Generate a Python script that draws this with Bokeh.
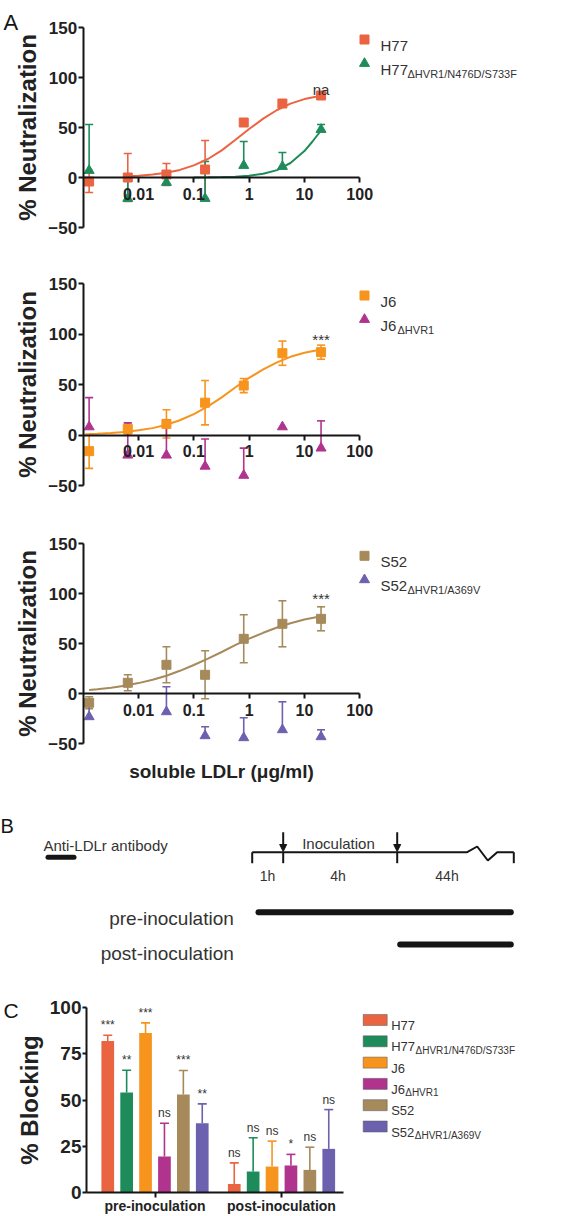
from bokeh.plotting import figure
from bokeh.models import (ColumnDataSource, Whisker, TeeHead, FixedTicker, LinearAxis, LogAxis,
                          LogScale, CustomJSTickFormatter, LabelSet, Range1d, Arrow, NormalHead)
from bokeh.core.properties import value
from bokeh.embed import file_html
from bokeh.resources import INLINE

# ======================= DATA =======================
# Panel A: neutralization by soluble LDLr (ug/ml)
conc = [0.00128, 0.0064, 0.032, 0.16, 0.8, 4, 20]

h77_mean = [-4, 0, 3, 8, 55, 74, 82]
h77_sd = [11, 24, 11, 29, 3, 3, 2]
h77d_mean = [7, -21, -5, -21, 12, 11, 48]
h77d_sd = [46, 22, 11, 37, 24, 14, 5]

j6_mean = [-16, 6, 11, 32, 49, 81, 82]
j6_sd = [17, 6, 14, 22, 7, 12, 7]
j6d_mean = [8, -20, -20, -31, -40, 8, -13]
j6d_sd = [29, 32, 35, 27, 27, 0, 27]

s52_mean = [-9, 11, 29, 19, 55, 70, 75]
s52_sd = [6, 8, 18, 24, 24, 23, 12]
s52d_conc = [0.00128, 0.032, 0.16, 0.8, 4, 20]
s52d_mean = [-23, -18, -42, -44, -36, -43]
s52d_sd = [15, 25, 9, 20, 28, 7]

# fitted curves
h77_curve_x = [0.0064, 0.01, 0.018, 0.032, 0.056, 0.1, 0.18, 0.32, 0.56, 1, 1.8, 3.2, 5.6, 10, 20]
h77_curve_y = [1.2, 1.7, 2.9, 4.7, 7.6, 12.1, 18.5, 27.1, 37.5, 48.5, 58.9, 67.5, 73.9, 78.4, 81.7]
h77d_curve_x = [0.1, 0.18, 0.32, 0.56, 1, 1.8, 3.2, 5.6, 10, 14, 20]
h77d_curve_y = [0.1, 0.2, 0.4, 0.8, 1.8, 3.7, 7.4, 14.5, 26.4, 36, 47]
j6_curve_x = [0.00128, 0.0018, 0.0032, 0.0056, 0.01, 0.018, 0.032, 0.056, 0.1,
              0.18, 0.32, 0.56, 1, 1.8, 3.2, 5.6, 10, 20]
j6_curve_y = [1.0, 1.3, 2.0, 3.0, 4.6, 6.8, 10.1, 14.6, 20.7,
              28.4, 37.3, 47.0, 56.5, 64.9, 71.9, 77.4, 81.4, 84.7]
s52_curve_x = j6_curve_x
s52_curve_y = [3.8, 4.5, 6.0, 8.0, 10.7, 14.0, 18.1, 23.0, 28.8,
               35.1, 41.8, 48.6, 55.1, 61.0, 66.3, 70.6, 74.3, 77.6]

x_ticks = [0.01, 0.1, 1, 10, 100]
y_ticks_a = [-50, 0, 50, 100, 150]
notes_a = ["na", "***", "***"]

# Panel C: % blocking by anti-LDLr antibody
groups = ["pre-inoculation", "post-inoculation"]
strain_names = ["H77", "H77", "J6", "J6", "S52", "S52"]
strain_subs = ["", "\u0394HVR1/N476D/S733F", "", "\u0394HVR1", "", "\u0394HVR1/A369V"]
pre_mean = [82, 54, 86.4, 19.3, 53, 37.4]
pre_sd = [3.1, 12.1, 5.4, 18.1, 13, 10.5]
post_mean = [4.5, 11.2, 13.9, 14.5, 12.1, 23.5]
post_sd = [11.4, 18.3, 13.8, 6, 12.3, 21.3]
pre_sig = ["***", "**", "***", "ns", "***", "**"]
post_sig = ["ns", "ns", "ns", "*", "ns", "ns"]
y_ticks_c = [0, 25, 50, 75, 100]

# ======================= LAYOUT / STYLE =======================
W, H = 566, 1216
FONT = "Liberation Sans"
INK = "#151515"
TXT = "#333333"
LBL = "#222222"
COLORS = ["#EB6442", "#1E8C5A", "#F7941E", "#B0338E", "#A68A5C", "#6C61AF"]
SUB_OFF_A = {"H77": 27, "J6": 17, "S52": 27}
SUB_OFF_C = {"H77": 24.3, "J6": 14, "S52": 23.6}

AX0, DEC = 82.7, 55.3                      # screen x of 1e-3, px per decade
A_GEOM = {"a1": (177.0, 1.0), "a2": (434.5, 1.01), "a3": (693.3, 1.0)}   # screen y of 0, px/unit
G0, UNIT = 154.5, 126.5                    # panel C: screen x of first group, px per group
C_ZERO, C_K = 1191.7, 1.844                # panel C: screen y of 0, px/unit
STEP, BAR_W = 18.9 / UNIT, 12.7 / UNIT


def AX(sx):
    return 10 ** (-3 + (sx - AX0) / DEC)


def AY(name, sy):
    zero, k = A_GEOM[name]
    return (zero - sy) / k


def CX(sx):
    return (sx - G0) / UNIT


def CY(sy):
    return (C_ZERO - sy) / C_K


extra_y = {n: Range1d(AY(n, H), AY(n, 0)) for n in A_GEOM}
extra_y["cy"] = Range1d(CY(H), CY(0))

p = figure(width=W, height=H, x_range=Range1d(0, W), y_range=Range1d(H, 0),
           min_border=0, x_axis_location=None, y_axis_location=None,
           extra_x_ranges={"ax": Range1d(AX(0), AX(W)), "cx": Range1d(CX(0), CX(W))},
           extra_x_scales={"ax": LogScale()},
           extra_y_ranges=extra_y,
           output_backend="svg", toolbar_location=None)
p.grid.visible = False
p.outline_line_color = None


def style_axis(ax, size, tick_out, standoff):
    ax.axis_line_width = 2
    ax.axis_line_color = INK
    ax.major_tick_line_width = 2
    ax.major_tick_line_color = INK
    ax.minor_tick_line_color = None
    ax.major_tick_in = 0
    ax.major_tick_out = tick_out
    ax.major_label_standoff = standoff
    ax.major_label_text_font = FONT
    ax.major_label_text_font_style = "bold"
    ax.major_label_text_font_size = f"{size}px"
    ax.major_label_text_color = LBL


def add_text(x, y, txt, size, style="normal", align="left", color=TXT, xr="default", yr="default"):
    p.text(x=[x], y=[y], text=[txt], text_font=value(FONT), text_font_size=value(f"{size}px"),
           text_font_style=style, text_align=align, text_baseline="alphabetic", text_color=color,
           x_range_name=xr, y_range_name=yr)


# ======================= PANEL A =======================
panels = [
    dict(yr="a1", note=notes_a[0], note_sy=89,
         series=[dict(name="H77", sub="", color=COLORS[0], marker="square", size=9, x=conc,
                      mean=h77_mean, sd=h77_sd, both=True, cx=h77_curve_x, cy=h77_curve_y),
                 dict(name="H77", sub=strain_subs[1], color=COLORS[1], marker="triangle", size=10,
                      x=conc, mean=h77d_mean, sd=h77d_sd, both=False,
                      cx=h77d_curve_x, cy=h77d_curve_y)]),
    dict(yr="a2", note=notes_a[1], note_sy=339,
         series=[dict(name="J6", sub="", color=COLORS[2], marker="square", size=9, x=conc,
                      mean=j6_mean, sd=j6_sd, both=True, cx=j6_curve_x, cy=j6_curve_y),
                 dict(name="J6", sub=strain_subs[3], color=COLORS[3], marker="triangle", size=10,
                      x=conc, mean=j6d_mean, sd=j6d_sd, both=False, cx=None, cy=None)]),
    dict(yr="a3", note=notes_a[2], note_sy=598,
         series=[dict(name="S52", sub="", color=COLORS[4], marker="square", size=9, x=conc,
                      mean=s52_mean, sd=s52_sd, both=True, cx=s52_curve_x, cy=s52_curve_y),
                 dict(name="S52", sub=strain_subs[5], color=COLORS[5], marker="triangle", size=10,
                      x=s52d_conc, mean=s52d_mean, sd=s52d_sd, both=False, cx=None, cy=None)]),
]

for cfg in panels:
    yr = cfg["yr"]
    zero, k = A_GEOM[yr]
    ftop = zero - 150 * k

    xa = LogAxis(x_range_name="ax", y_range_name=yr, fixed_location=0, bounds=(1e-3, 100),
                 ticker=FixedTicker(ticks=x_ticks, minor_ticks=[]),
                 formatter=CustomJSTickFormatter(code="return tick.toString();"))
    style_axis(xa, 16, 5, 5)
    p.add_layout(xa, "below")

    ya = LinearAxis(x_range_name="ax", y_range_name=yr, fixed_location=1e-3, bounds=(-50, 150),
                    ticker=FixedTicker(ticks=y_ticks_a, minor_ticks=[]),
                    axis_label="% Neutralization")
    style_axis(ya, 17, 5, 1)
    ya.axis_label_text_font = FONT
    ya.axis_label_text_font_style = "bold"
    ya.axis_label_text_font_size = "24px"
    ya.axis_label_text_color = LBL
    ya.axis_label_standoff = 5
    p.add_layout(ya, "left")

    for s in cfg["series"]:
        if s["cx"] is not None:
            p.line(s["cx"], s["cy"], line_color=s["color"], line_width=2,
                   x_range_name="ax", y_range_name=yr)

    for s in cfg["series"]:
        c = s["color"]
        rows = [(x, m, e) for x, m, e in zip(s["x"], s["mean"], s["sd"]) if e > 0]
        src = ColumnDataSource(dict(
            base=[r[0] for r in rows],
            upper=[r[1] + r[2] for r in rows],
            lower=[(r[1] - r[2]) if s["both"] else r[1] for r in rows]))
        p.add_layout(Whisker(source=src, base="base", upper="upper", lower="lower",
                             x_range_name="ax", y_range_name=yr,
                             line_color=c, line_width=1.6,
                             upper_head=TeeHead(size=8, line_color=c, line_width=1.6),
                             lower_head=TeeHead(size=8, line_color=c, line_width=1.6)
                             if s["both"] else None))
        p.scatter(s["x"], s["mean"], marker=s["marker"], size=s["size"],
                  fill_color=c, line_color=c, x_range_name="ax", y_range_name=yr)

    # legend (screen coordinates)
    for i, s in enumerate(cfg["series"]):
        row = ftop + (12 if i == 0 else 36)
        p.scatter([364], [row], marker=s["marker"], size=s["size"],
                  fill_color=s["color"], line_color=s["color"])
        add_text(380, row + 6, s["name"], 15)
        if s["sub"]:
            add_text(380 + SUB_OFF_A[s["name"]], row + 10, s["sub"], 11)

    add_text(20, AY(yr, cfg["note_sy"]), cfg["note"], 15, align="center", xr="ax", yr=yr)

add_text(3, 21.7, "A", 22, color=INK)
add_text(221, 771, "soluble LDLr (\u03bcg/ml)", 19, style="bold", align="center", color=LBL)

# ======================= PANEL B (schematic, screen coordinates) =======================
add_text(0, 825, "B", 20, color=INK)
add_text(43, 844.5, "Anti-LDLr antibody", 15)
p.segment(x0=[47.5], y0=[856.7], x1=[73.5], y1=[856.7],
          line_width=5, line_color=INK, line_cap="round")
tl_x = [251.7, 466.7, 476.7, 487.3, 496.7, 513.3]
tl_y = [851.7, 851.7, 846.0, 860.0, 851.7, 851.7]
p.line(tl_x, tl_y, line_width=2, line_color=INK)
tick_sx = [251.7, 282.7, 396.7, 513.3]
p.segment(x0=tick_sx, y0=[851.7] * 4, x1=tick_sx, y1=[862.7] * 4, line_width=2, line_color=INK)
for ax_ in (282.7, 396.7):
    p.add_layout(Arrow(end=NormalHead(size=7, fill_color=INK, line_color=INK, line_width=1),
                       x_start=ax_, y_start=831.7, x_end=ax_, y_end=851,
                       line_color=INK, line_width=2))
add_text(301.7, 843.3, "Inoculation", 15)
add_text(267, 875, "1h", 14, align="center")
add_text(337.5, 875, "4h", 14, align="center")
add_text(446.5, 875, "44h", 14, align="center")
add_text(233.3, 917.5, "pre-inoculation", 19, align="right")
add_text(233.3, 952.5, "post-inoculation", 19, align="right")
p.segment(x0=[258, 399.7], y0=[911.7, 944], x1=[510.3, 510.3], y1=[911.7, 944],
          line_width=6, line_color=INK, line_cap="round")

# ======================= PANEL C (bars) =======================
bx_, btop, bcol, bsig, berr = [], [], [], [], []
for gi, (means, errs, marks) in enumerate([(pre_mean, pre_sd, pre_sig),
                                          (post_mean, post_sd, post_sig)]):
    for k in range(6):
        bx_.append(gi + (k - 2.5) * STEP)
        btop.append(means[k])
        berr.append(errs[k])
        bcol.append(COLORS[k])
        bsig.append(marks[k])

p.vbar(x=bx_, top=btop, bottom=0, width=BAR_W, fill_color=bcol, line_color=None,
       x_range_name="cx", y_range_name="cy")
for k in range(6):
    idx = [k, k + 6]
    src = ColumnDataSource(dict(base=[bx_[i] for i in idx], lower=[btop[i] for i in idx],
                                upper=[btop[i] + berr[i] for i in idx]))
    p.add_layout(Whisker(source=src, base="base", upper="upper", lower="lower",
                         x_range_name="cx", y_range_name="cy",
                         line_color=COLORS[k], line_width=1.6,
                         upper_head=TeeHead(size=9, line_color=COLORS[k], line_width=1.6),
                         lower_head=None))
sig_src = ColumnDataSource(dict(x=bx_, y=[t + e + 6 / C_K for t, e in zip(btop, berr)],
                                text=bsig))
p.add_layout(LabelSet(source=sig_src, x="x", y="y", text="text", text_align="center",
                      x_range_name="cx", y_range_name="cy",
                      text_baseline="alphabetic", text_font=value(FONT),
                      text_font_size="12px", text_color=TXT))

xc = LinearAxis(x_range_name="cx", y_range_name="cy", fixed_location=0,
                bounds=(CX(86), CX(343.3)),
                ticker=FixedTicker(ticks=[0, 1], minor_ticks=[]),
                formatter=CustomJSTickFormatter(args=dict(labels=groups),
                                                code="return labels[Math.round(tick)];"))
style_axis(xc, 14, 5, 1)
p.add_layout(xc, "below")
yc = LinearAxis(x_range_name="cx", y_range_name="cy", fixed_location=CX(86), bounds=(0, 100),
                ticker=FixedTicker(ticks=y_ticks_c, minor_ticks=[]), axis_label="% Blocking")
style_axis(yc, 19, 4, 1)
yc.axis_label_text_font = FONT
yc.axis_label_text_font_style = "bold"
yc.axis_label_text_font_size = "24px"
yc.axis_label_text_color = LBL
yc.axis_label_standoff = 4
p.add_layout(yc, "left")

for k in range(6):
    row = 1019.5 + 21.3 * k
    p.rect(x=[374.7], y=[row], width=24, height=11,
           fill_color=COLORS[k], line_color="#555555", line_alpha=0.5, line_width=1)
    add_text(390.7, row + 5.5, strain_names[k], 13)
    if strain_subs[k]:
        add_text(390.7 + SUB_OFF_C[strain_names[k]], row + 9, strain_subs[k], 10)

add_text(3, 1010, "C", 21, color=INK)

open("out.html", "w").write(file_html(p, INLINE))
